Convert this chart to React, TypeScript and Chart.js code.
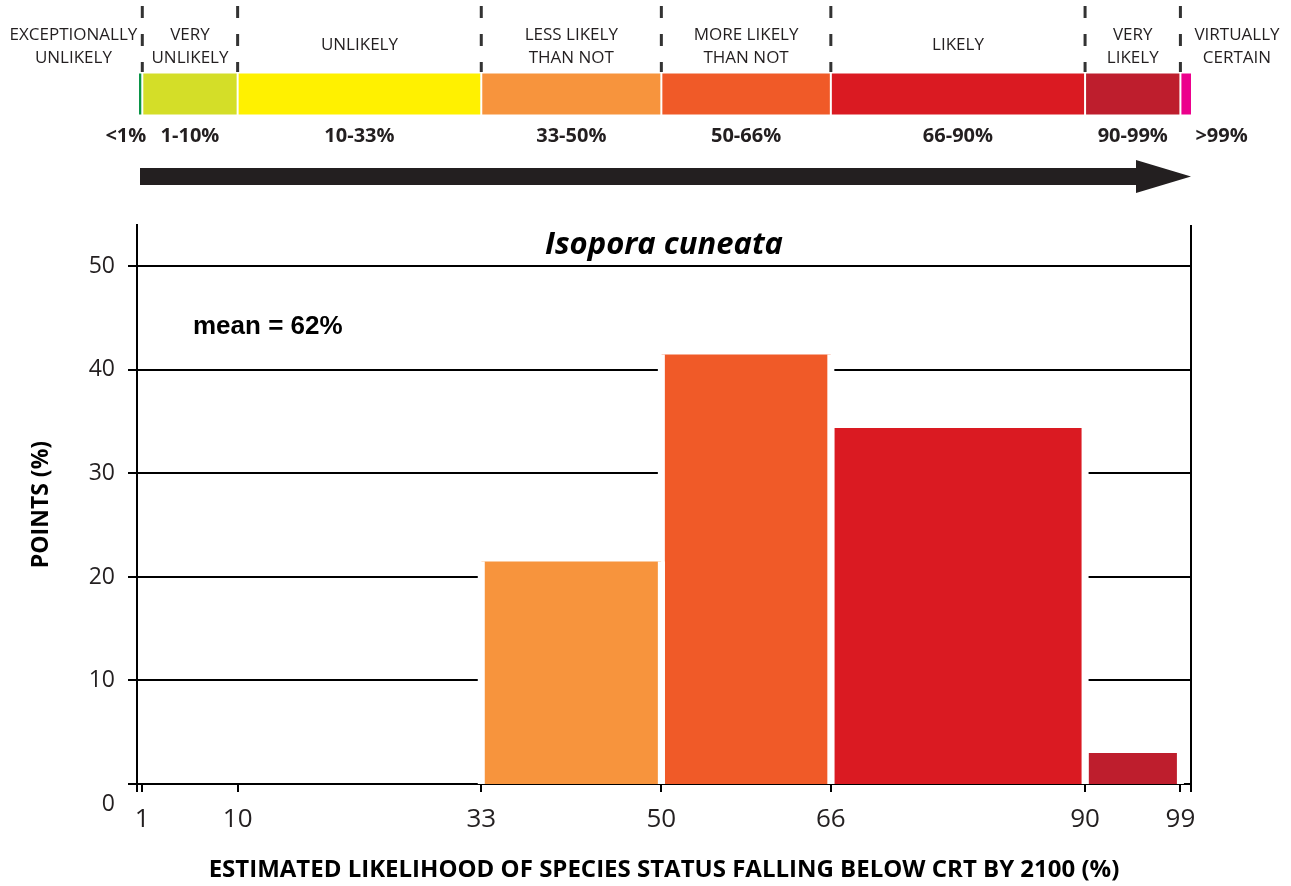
import React, { useEffect, useRef } from 'react';
import { Chart, registerables } from 'chart.js';

Chart.register(...registerables);

// Histogram bins (x = estimated likelihood %, y = points %)
const binStarts = [33, 50, 66, 90];
const binEnds = [50, 66, 90, 99];
const binValues = [21.5, 41.5, 34.4, 3.0];
const binColors = ['#F7943D', '#F05A28', '#DA1A22', '#BE1E2D'];

// Axis ticks
const xTickValues = [1, 10, 33, 50, 66, 90, 99];
const yTickValues = [0, 10, 20, 30, 40, 50];

// Likelihood scale band
const bandEdges = [0, 1, 10, 33, 50, 66, 90, 99, 100];
const bandColors = ['#0A9447', '#D4DE28', '#FFF100', '#F7943D', '#F05A28', '#DA1A22', '#BE1E2D', '#EC008C'];
const bandNames = [
  ['EXCEPTIONALLY', 'UNLIKELY'],
  ['VERY', 'UNLIKELY'],
  ['UNLIKELY'],
  ['LESS LIKELY', 'THAN NOT'],
  ['MORE LIKELY', 'THAN NOT'],
  ['LIKELY'],
  ['VERY', 'LIKELY'],
  ['VIRTUALLY', 'CERTAIN'],
];
const bandRanges = ['<1%', '1-10%', '10-33%', '33-50%', '50-66%', '66-90%', '90-99%', '>99%'];

const titleText = 'Isopora cuneata';
const meanText = 'mean = 62%';
const xTitle = 'ESTIMATED LIKELIHOOD OF SPECIES STATUS FALLING BELOW CRT BY 2100 (%)';
const yTitle = 'POINTS (%)';

const INK = '#231F20';
const SANS = '"Open Sans", "Noto Sans", sans-serif';

const decorPlugin = {
  id: 'decor',
  afterDraw(chart: any) {
    const ctx = chart.ctx as CanvasRenderingContext2D;
    const xs = chart.scales.x;
    const ys = chart.scales.y;
    const ca = chart.chartArea;
    ctx.save();

    // right frame line and axis extensions below the x axis
    ctx.strokeStyle = '#000';
    ctx.lineWidth = 2;
    ctx.beginPath();
    ctx.moveTo(ca.right, ca.top);
    ctx.lineTo(ca.right, ca.bottom + 8);
    ctx.moveTo(ca.left, ca.bottom);
    ctx.lineTo(ca.left, ca.bottom + 8);
    ctx.stroke();

    // "0" label of the y axis (set lower in the original)
    ctx.fillStyle = INK;
    ctx.font = `23px ${SANS}`;
    ctx.textAlign = 'right';
    ctx.textBaseline = 'middle';
    ctx.fillText('0', ca.left - 22, ys.getPixelForValue(0) + 20);

    // Species title
    ctx.fillStyle = '#000';
    ctx.font = `italic bold 31px ${SANS}`;
    ctx.textAlign = 'center';
    ctx.textBaseline = 'alphabetic';
    ctx.fillText(titleText, (ca.left + ca.right) / 2, ca.top + 29);

    // mean label
    ctx.font = `bold 26px "Liberation Sans", Arial, sans-serif`;
    ctx.textAlign = 'left';
    ctx.fillText(meanText, ca.left + 56, ca.top + 109);

    // ---- likelihood band ----
    const px = (v: number) => Math.max(xs.left, xs.getPixelForValue(v));
    const bandTop = 73.5;
    const bandBottom = 114.5;
    for (let i = 0; i < bandColors.length; i++) {
      const a = px(bandEdges[i]);
      const b = px(bandEdges[i + 1]);
      const l = i === 0 ? a + 2 : a + 1;
      const r = i === bandColors.length - 1 ? b : b - 1;
      ctx.fillStyle = bandColors[i];
      ctx.fillRect(l, bandTop, r - l, bandBottom - bandTop);
    }

    // dashed separators
    ctx.strokeStyle = '#333';
    ctx.lineWidth = 3;
    ctx.setLineDash([12, 16]);
    for (let i = 1; i < bandEdges.length - 1; i++) {
      const x = px(bandEdges[i]);
      ctx.beginPath();
      ctx.moveTo(x, 6);
      ctx.lineTo(x, 72);
      ctx.stroke();
    }
    ctx.setLineDash([]);

    // names
    ctx.fillStyle = INK;
    ctx.font = `17px ${SANS}`;
    ctx.textAlign = 'center';
    ctx.textBaseline = 'middle';
    const n = bandNames.length;
    for (let i = 0; i < n; i++) {
      const lines = bandNames[i];
      const w = Math.max(...lines.map((s) => ctx.measureText(s).width));
      let cx: number;
      if (i === 0) cx = px(bandEdges[1]) - 5 - w / 2;
      else if (i === n - 1) cx = px(bandEdges[n - 1]) + 14 + w / 2;
      else cx = (px(bandEdges[i]) + px(bandEdges[i + 1])) / 2;
      if (lines.length === 1) ctx.fillText(lines[0], cx, 45);
      else {
        ctx.fillText(lines[0], cx, 35);
        ctx.fillText(lines[1], cx, 58);
      }
    }

    // ranges
    ctx.font = `bold 20px ${SANS}`;
    for (let i = 0; i < bandRanges.length; i++) {
      if (i === 0) {
        ctx.textAlign = 'right';
        ctx.fillText(bandRanges[i], px(bandEdges[1]) + 4, 136.5);
      } else if (i === bandRanges.length - 1) {
        ctx.textAlign = 'left';
        ctx.fillText(bandRanges[i], px(bandEdges[bandEdges.length - 2]) + 15, 136.5);
      } else {
        ctx.textAlign = 'center';
        ctx.fillText(bandRanges[i], (px(bandEdges[i]) + px(bandEdges[i + 1])) / 2, 136.5);
      }
    }

    // arrow
    const tip = xs.getPixelForValue(100);
    const start = xs.left + 3;
    const headLen = 55;
    ctx.fillStyle = INK;
    ctx.fillRect(start, 168, tip - headLen - start + 1, 17);
    ctx.beginPath();
    ctx.moveTo(tip - headLen, 160);
    ctx.lineTo(tip, 176.5);
    ctx.lineTo(tip - headLen, 193);
    ctx.closePath();
    ctx.fill();

    ctx.restore();
  },
};

export default function App() {
  const canvasRef = useRef<HTMLCanvasElement>(null);

  useEffect(() => {
    const canvas = canvasRef.current;
    if (!canvas) return;

    const datasets = binStarts.map((s, i) => ({
      label: `${s}-${binEnds[i]}`,
      data: [
        { x: s, y: 0 },
        { x: s, y: binValues[i] },
        { x: binEnds[i], y: binValues[i] },
        { x: binEnds[i], y: 0 },
      ],
      fill: 'origin',
      backgroundColor: binColors[i],
      borderColor: '#ffffff',
      borderWidth: 7,
      borderCapStyle: 'butt',
      borderJoinStyle: 'miter',
      pointRadius: 0,
      pointHoverRadius: 0,
      tension: 0,
      segment: {
        borderColor: (c: any) => (c.p0.parsed.y === c.p1.parsed.y ? 'rgba(0,0,0,0)' : '#ffffff'),
      },
    }));

    const chart = new Chart(canvas, {
      type: 'line',
      data: { datasets: datasets as any },
      plugins: [decorPlugin],
      options: {
        responsive: false,
        animation: false,
        events: [],
        layout: { padding: { top: 225, right: 100, left: 0, bottom: 0 } },
        plugins: {
          legend: { display: false },
          tooltip: { enabled: false },
        },
        scales: {
          x: {
            type: 'linear',
            min: 0.5,
            max: 100,
            z: 1,
            afterBuildTicks: (scale: any) => {
              scale.ticks = xTickValues.map((v) => ({ value: v }));
            },
            afterFit: (scale: any) => {
              scale.height = 102;
            },
            grid: {
              drawOnChartArea: false,
              drawTicks: true,
              tickLength: 8,
              color: '#000',
              lineWidth: 2,
            },
            border: { display: true, color: '#000', width: 2 },
            ticks: {
              autoSkip: false,
              maxRotation: 0,
              padding: 12,
              color: INK,
              font: { family: SANS, size: 26 },
              callback: (v: any) => String(v),
            },
            title: {
              display: true,
              text: xTitle,
              color: '#000',
              font: { family: SANS, size: 24, weight: 'bold' },
              padding: { top: 0, bottom: 1 },
            },
          },
          y: {
            type: 'linear',
            min: 0,
            max: 54,
            afterBuildTicks: (scale: any) => {
              scale.ticks = yTickValues.map((v) => ({ value: v }));
            },
            afterFit: (scale: any) => {
              scale.width = 137;
            },
            grid: {
              drawTicks: true,
              tickLength: 9,
              color: '#000',
              lineWidth: 2,
            },
            border: { display: true, color: '#000', width: 2 },
            ticks: {
              padding: 13,
              color: INK,
              font: { family: SANS, size: 23 },
              callback: (v: any) => (v === 0 ? '' : String(v)),
            },
            title: {
              display: true,
              text: yTitle,
              color: '#000',
              font: { family: SANS, size: 23, weight: 'bold' },
              padding: { top: 28, bottom: 0 },
            },
          },
        },
      } as any,
    });

    return () => chart.destroy();
  }, []);

  return (
    <div style={{ position: 'fixed', left: 0, top: 0, width: 1291, height: 886, background: '#fff' }}>
      <canvas ref={canvasRef} width={1291} height={886} />
    </div>
  );
}
